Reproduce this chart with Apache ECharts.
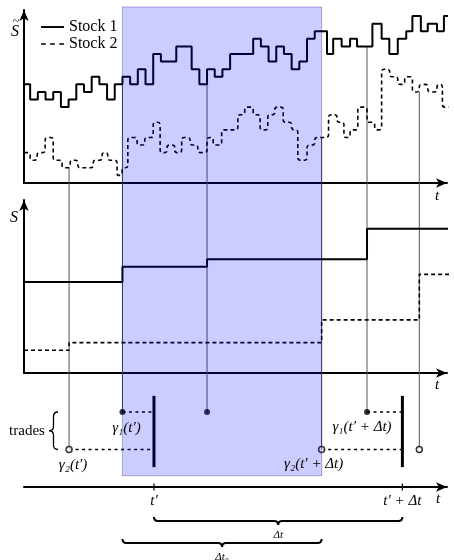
<!DOCTYPE html>
<html><head><meta charset="utf-8">
<script src="https://cdn.jsdelivr.net/npm/echarts@6/dist/echarts.min.js"></script>
<style>html,body{margin:0;padding:0;background:#fff}#c{width:454px;height:560px}</style>
</head><body><div id="c"></div>
<script>
// Time is measured in units of one price tick interval; prices in tick-size units.
const seriesNames = ['Stock 1', 'Stock 2'];
// Top panel: fine-grained price paths  [time, level]  (level holds until the next time)
const stock1Steps = [[0.2,13],[1,11],[2,12],[3,11],[4,12],[5,10],[6,11],[7,13],[8,12],[9,14],[10,13],[11,11],[12,13],[13,14],[14,13],[15,15],[16,13],[17,17],[18,16],[20,18],[22,15],[23,13],[24,15],[25,14],[26,15],[27,17],[30,19],[31,18],[32,16],[33,18],[34,17],[35,15],[36,16],[37,19],[38,20],[39.6,17],[40.4,19],[41.5,18],[42.6,19],[43.5,18],[45.5,21],[46.7,19],[47.7,17],[48.8,19],[49.9,20],[50.7,22],[51.8,20],[52.7,21],[53.9,20],[54.8,22],[55.7,22]];
const stock2Steps = [[0.2,4],[1,3],[1.9,4],[2.95,6],[4,3],[5.15,2],[6.2,3],[7.2,2],[9.2,3],[10.35,4],[11.1,3],[12.3,1],[12.95,2],[13.7,6],[14.9,5],[15.9,6],[17,8],[17.9,4],[18.8,5],[19.8,4],[20.7,6],[21.8,5],[22.8,4],[24,6],[24.8,5],[25.9,7],[28,9],[28.9,10],[30,9],[30.9,7],[31.9,9],[32.8,10],[33.9,8],[35,7],[35.8,3],[37,5],[38,6],[39.8,9],[40.9,8],[41.8,6],[42.6,7],[43.6,10],[44.8,8],[45.8,7],[46.7,15],[47.75,14],[48.8,13],[49.7,14],[50.7,12],[51.6,13],[52.7,12],[53.9,13],[54.6,10],[55.4,10]];
// Middle panel: last traded prices
const lastPrice1 = [[0.2,12],[13,14],[24,15],[44.8,19],[55.7,19]];
const lastPrice2 = [[0.2,3],[6.06,4],[38.9,7],[51.6,13],[55.7,13]];
// Trade times
const stock1Trades = [13.0, 24.0, 44.8];
const stock2Trades = [6.06, 38.9, 51.6];
// Observation times
const tPrime = 17.1;
const tPrimePlusDt = 49.4;
const tickLabels = ['t\u2032', 't\u2032 + \u0394t'];

// ---- layout / style constants ----
const X_MIN = 0.2, X_MAX = 55.2, Y_MAX = 22.8;
const ROW1 = 2, ROW2 = 1;            // trade rows in the bottom panel
const BAR_LOW = 0.53, BAR_HIGH = 2.43;
const SHADE_TOP = 23.2, SHADE_BOTTOM = 0.3;
const BRACE_OFFSETS = [34, 56];      // px below the time axis
const SERIF = '"Liberation Serif", "DejaVu Serif", serif';
const M15 = 'italic 15px ' + SERIF;

function levelAt(steps, t) { let v = steps[0][1]; for (const s of steps) { if (s[0] <= t) v = s[1]; } return v; }
function minLevelAround(steps, t) { return Math.min(levelAt(steps, t - 0.01), levelAt(steps, t + 0.01)); }
function lastBefore(trades, t) { let r = trades[0]; trades.forEach(x => { if (x <= t) r = x; }); return r; }

function roundedStepPath(api, steps, r) {
  const pts = [api.coord(steps[0])];
  for (let i = 1; i < steps.length; i++) {
    pts.push(api.coord([steps[i][0], steps[i - 1][1]]));
    if (steps[i][1] !== steps[i - 1][1]) pts.push(api.coord(steps[i]));
  }
  const f = p => p[0].toFixed(2) + ' ' + p[1].toFixed(2);
  let d = 'M' + f(pts[0]);
  for (let i = 1; i < pts.length - 1; i++) {
    const p0 = pts[i - 1], p1 = pts[i], p2 = pts[i + 1];
    const l1 = Math.hypot(p1[0] - p0[0], p1[1] - p0[1]) || 1e-6;
    const l2 = Math.hypot(p2[0] - p1[0], p2[1] - p1[1]) || 1e-6;
    const rr = Math.min(r, l1 / 2, l2 / 2);
    const a = [p1[0] + (p0[0] - p1[0]) * rr / l1, p1[1] + (p0[1] - p1[1]) * rr / l1];
    const b = [p1[0] + (p2[0] - p1[0]) * rr / l2, p1[1] + (p2[1] - p1[1]) * rr / l2];
    d += ' L' + f(a) + ' Q' + f(p1) + ' ' + f(b);
  }
  d += ' L' + f(pts[pts.length - 1]);
  return d;
}
function underBrace(x1, x2, y, h) {
  const xm = (x1 + x2) / 2;
  return `M${x1} ${y - h} Q${x1} ${y} ${x1 + h} ${y} L${xm - h} ${y} Q${xm} ${y} ${xm} ${y + h} Q${xm} ${y} ${xm + h} ${y} L${x2 - h} ${y} Q${x2} ${y} ${x2} ${y - h}`;
}
function leftBrace(x, y1, y2, h) {
  const ym = (y1 + y2) / 2, xs = x - h, xt = x - 2 * h;
  return `M${x} ${y1} Q${xs} ${y1} ${xs} ${y1 + h} L${xs} ${ym - h} Q${xs} ${ym} ${xt} ${ym} Q${xs} ${ym} ${xs} ${ym + h} L${xs} ${y2 - h} Q${xs} ${y2} ${x} ${y2}`;
}

const arrowLine = { show: true, symbol: ['none', 'arrow'], symbolSize: [7, 11], lineStyle: { color: '#000', width: 2 } };
function xAx(gi) {
  return { type: 'value', gridIndex: gi, min: X_MIN, max: X_MAX, axisLine: arrowLine,
    axisTick: { show: false }, axisLabel: { show: false }, splitLine: { show: false } };
}
function yAx(gi, max, show) {
  return { type: 'value', gridIndex: gi, min: 0, max: max, show: show, axisLine: arrowLine,
    axisTick: { show: false }, axisLabel: { show: false }, splitLine: { show: false } };
}

const g1 = lastBefore(stock1Trades, tPrime), g2 = lastBefore(stock2Trades, tPrimePlusDt);
const connectors = [
  [g1, tPrime, ROW1],
  [lastBefore(stock2Trades, tPrime), tPrime, ROW2],
  [lastBefore(stock1Trades, tPrimePlusDt), tPrimePlusDt, ROW1],
  [g2, tPrimePlusDt, ROW2]
];
const braces = [[tPrime, tPrimePlusDt], [g1, g2]];
const braceLabels = ['\u0394t', '\u0394t\u2080'];

const legendText = { fontFamily: 'Liberation Serif', fontSize: 16, color: '#000' };
const chart = echarts.init(document.getElementById('c'), null, { renderer: 'canvas', width: 454, height: 560 });
const option = {
  animation: false,
  backgroundColor: '#fff',
  textStyle: { fontFamily: 'Liberation Serif' },
  grid: [
    { left: 24, top: 10, width: 423, height: 173 },
    { left: 24, top: 200, width: 423, height: 173 },
    { left: 24, top: 389.5, width: 423, height: 97.5 }
  ],
  xAxis: [xAx(0), xAx(1), Object.assign(xAx(2), {
    axisLabel: { show: true, customValues: [tPrime, tPrimePlusDt],
      formatter: v => (Math.abs(v - tPrime) < 1e-6 ? tickLabels[0] : tickLabels[1]),
      margin: 7, fontFamily: SERIF, fontStyle: 'italic', fontSize: 15, color: '#000' }
  })],
  yAxis: [yAx(0, Y_MAX, true), yAx(1, Y_MAX, true), yAx(2, 2.6, false)],
  legend: {
    left: 36, top: 14, orient: 'vertical', itemWidth: 23, itemHeight: 10, itemGap: 1,
    selectedMode: false,
    textStyle: legendText,
    data: [
      { name: seriesNames[0], icon: 'path://M0,0h24v2h-24z', textStyle: legendText },
      { name: seriesNames[1], icon: 'path://M0,0h5v1.6h-5z M9.5,0h5v1.6h-5z M19,0h5v1.6h-5z', textStyle: legendText }
    ]
  },
  series: [
    { name: seriesNames[0], type: 'line', xAxisIndex: 0, yAxisIndex: 0, data: stock1Steps, step: 'end',
      symbol: 'none', clip: false, itemStyle: { color: '#000' }, lineStyle: { color: '#000', width: 2 }, z: 3 },
    { name: seriesNames[1], type: 'custom', xAxisIndex: 0, yAxisIndex: 0, data: [[X_MIN, 0]], clip: false,
      itemStyle: { color: '#000' }, z: 3,
      renderItem: (params, api) => ({ type: 'path', shape: { pathData: roundedStepPath(api, stock2Steps, 2.6) },
        style: { stroke: '#000', fill: 'none', lineWidth: 1.6, lineDash: [4, 3] } }) },
    { name: 'S1', type: 'line', xAxisIndex: 1, yAxisIndex: 1, data: lastPrice1, step: 'end', symbol: 'none',
      clip: false, lineStyle: { color: '#000', width: 2 }, z: 3 },
    { name: 'S2', type: 'line', xAxisIndex: 1, yAxisIndex: 1, data: lastPrice2, step: 'end', symbol: 'none',
      clip: false, lineStyle: { color: '#000', width: 1.6, type: [4, 3] }, z: 3 },
    { name: 'connectors', type: 'custom', xAxisIndex: 2, yAxisIndex: 2, data: connectors, encode: { x: [0, 1], y: 2 },
      clip: false, z: 3,
      renderItem: (params, api) => {
        const a = api.coord([api.value(0), api.value(2)]), b = api.coord([api.value(1), api.value(2)]);
        return { type: 'line', shape: { x1: a[0], y1: a[1], x2: b[0], y2: b[1] },
          style: { stroke: '#000', lineWidth: 1.5, lineDash: [3, 3.5] } };
      } },
    { name: 'bars', type: 'custom', xAxisIndex: 2, yAxisIndex: 2, data: [[tPrime, 0], [tPrimePlusDt, 0]],
      clip: false, z: 4,
      renderItem: (params, api) => {
        const a = api.coord([api.value(0), BAR_LOW]), b = api.coord([api.value(0), BAR_HIGH]);
        return { type: 'line', shape: { x1: a[0], y1: a[1], x2: b[0], y2: b[1] },
          style: { stroke: '#000', lineWidth: 3 } };
      } },
    { name: 'ticks', type: 'custom', xAxisIndex: 2, yAxisIndex: 2, data: [[tPrime, 0], [tPrimePlusDt, 0]],
      clip: false, z: 4,
      renderItem: (params, api) => {
        const a = api.coord([api.value(0), 0]);
        return { type: 'line', shape: { x1: a[0], y1: a[1] - 3.5, x2: a[0], y2: a[1] + 3.5 },
          style: { stroke: '#000', lineWidth: 1.2 } };
      } },
    { name: 'braces', type: 'custom', xAxisIndex: 2, yAxisIndex: 2, data: braces, encode: { x: [0, 1] },
      clip: false, z: 4,
      renderItem: (params, api) => {
        const a = api.coord([api.value(0), 0]), b = api.coord([api.value(1), 0]);
        const y = a[1] + BRACE_OFFSETS[params.dataIndex];
        return { type: 'group', children: [
          { type: 'path', shape: { pathData: underBrace(a[0], b[0], y, 4) }, style: { stroke: '#000', fill: 'none', lineWidth: 2 } },
          { type: 'text', x: (a[0] + b[0]) / 2, y: y + 14,
            style: { text: braceLabels[params.dataIndex], font: 'italic 11px ' + SERIF, fill: '#000', align: 'center', verticalAlign: 'middle' } }
        ] };
      } },
    { name: 'tradesBrace', type: 'custom', xAxisIndex: 2, yAxisIndex: 2, data: [[X_MIN, ROW1, ROW2]], encode: { x: 0, y: [1, 2] },
      clip: false, z: 4,
      renderItem: (params, api) => {
        const a = api.coord([api.value(0), api.value(1)]), b = api.coord([api.value(0), api.value(2)]);
        return { type: 'group', children: [
          { type: 'path', shape: { pathData: leftBrace(58, a[1], b[1], 4.5) }, style: { stroke: '#000', fill: 'none', lineWidth: 1.3 } },
          { type: 'text', x: 27, y: (a[1] + b[1]) / 2,
            style: { text: 'trades', font: '15px ' + SERIF, fill: '#000', align: 'center', verticalAlign: 'middle' } }
        ] };
      } },
    { name: 'trades1', type: 'scatter', xAxisIndex: 2, yAxisIndex: 2, data: stock1Trades.map(t => [t, ROW1]),
      symbol: 'circle', symbolSize: 6, itemStyle: { color: '#000' }, z: 6 },
    { name: 'trades2', type: 'scatter', xAxisIndex: 2, yAxisIndex: 2, data: stock2Trades.map(t => [t, ROW2]),
      symbol: 'circle', symbolSize: 6, itemStyle: { color: '#fff', borderColor: '#000', borderWidth: 1.5 }, z: 6 }
  ]
};
chart.setOption(option);

// ---- annotations positioned through the axes' own scales ----
const P0 = v => chart.convertToPixel({ gridIndex: 0 }, v);
const P1 = v => chart.convertToPixel({ gridIndex: 1 }, v);
const P2 = v => chart.convertToPixel({ gridIndex: 2 }, v);
const els = [];
function seg(a, b, style, z) { els.push({ type: 'line', silent: true, z: z, shape: { x1: a[0], y1: a[1], x2: b[0], y2: b[1] }, style: style }); }
function txt(s, x, y, font, align) {
  els.push({ type: 'text', silent: true, z: 120, x: x, y: y,
    style: { text: s, font: font, fill: '#000', align: align || 'center', verticalAlign: 'middle' } });
}
const evStyle = { stroke: '#555', lineWidth: 1 };
stock1Trades.forEach(t => seg(P0([t, minLevelAround(stock1Steps, t)]), P2([t, ROW1]), evStyle, 1));
stock2Trades.forEach(t => seg(P0([t, minLevelAround(stock2Steps, t)]), P2([t, ROW2]), evStyle, 1));

// shaded window between gamma1(t') and gamma2(t'+dt)
const ra = P0([g1, SHADE_TOP]), rb = P2([g2, SHADE_BOTTOM]);
els.push({ type: 'rect', silent: true, z: 100, shape: { x: ra[0], y: ra[1], width: rb[0] - ra[0], height: rb[1] - ra[1] },
  style: { fill: 'rgba(0,0,255,0.2)', stroke: 'rgba(0,0,110,0.3)', lineWidth: 1 } });

// trade labels
let p;
p = P2([g1, ROW1]); txt('\u03b3\u2081(t\u2032)', p[0] + 4, p[1] + 16, M15);
p = P2([lastBefore(stock2Trades, tPrime), ROW2]); txt('\u03b3\u2082(t\u2032)', p[0] + 4, p[1] + 16, M15);
p = P2([lastBefore(stock1Trades, tPrimePlusDt), ROW1]); txt('\u03b3\u2081(t\u2032 + \u0394t)', p[0] - 5, p[1] + 15, M15);
p = P2([g2, ROW2]); txt('\u03b3\u2082(t\u2032 + \u0394t)', p[0] - 8, p[1] + 15, M15);

// axis names
const e0 = P0([X_MAX, 0]), e1 = P1([X_MAX, 0]), e2 = P2([X_MAX, 0]);
txt('t', e0[0] - 10, e0[1] + 13, M15);
txt('t', e1[0] - 10, e1[1] + 12, M15);
txt('t', e2[0] - 9, e2[1] + 12, M15);
const s0 = P0([X_MIN, Y_MAX]), s1 = P1([X_MIN, Y_MAX]);
txt('S', s0[0] - 9, s0[1] + 22, 'italic 16px ' + SERIF);
txt('~', s0[0] - 8, s0[1] + 12, '12px ' + SERIF);
txt('S', s1[0] - 10, s1[1] + 18, 'italic 16px ' + SERIF);

chart.setOption({ graphic: { elements: els } });
</script></body></html>
